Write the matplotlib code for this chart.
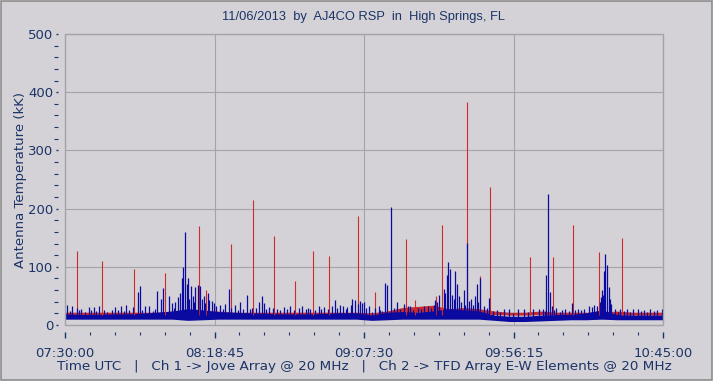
import matplotlib
matplotlib.use("Agg")
import matplotlib.pyplot as plt
from matplotlib.patches import Rectangle
from matplotlib.ticker import FixedLocator, MultipleLocator

# colours picked off the SkyPipe screenshot
BG = "#d4d2d6"
GRID = "#a4a4a8"
TEXT = "#1c3468"
BLUE = "#0a0aa0"
RED = "#cc2b2b"

# time axis is minutes after 07:30:00 UTC
tick_minutes = [0, 48.75, 97.5, 146.25, 195]
tick_labels = ["07:30:00", "08:18:45", "09:07:30", "09:56:15", "10:45:00"]

# dense noise band, one point every 5 minutes (kK)
band_t = [0, 5, 10, 15, 20, 25, 30, 35, 40, 45, 50, 55, 60, 65, 70, 75, 80, 85, 90, 95,
          100, 105, 110, 115, 120, 125, 130, 135, 140, 145, 150, 155, 160, 165, 170, 175,
          180, 185, 190, 195]
blue_lo = [10, 10, 10, 10, 10, 10, 10, 10, 8, 9, 10, 10, 10, 10, 10, 10, 10, 10, 10, 10,
           8, 9, 10, 10, 10, 10, 10, 10, 8, 6, 6, 7, 8, 9, 9, 10, 9, 9, 9, 9]
blue_hi = [19, 18, 18, 19, 19, 20, 22, 24, 28, 26, 23, 22, 21, 20, 19, 19, 19, 20, 21, 21,
           17, 22, 23, 22, 24, 28, 26, 24, 17, 15, 15, 17, 18, 18, 21, 26, 18, 17, 17, 17]
red_lo = [17, 17, 17, 17, 17, 17, 17, 18, 18, 18, 18, 17, 17, 17, 17, 17, 17, 17, 17, 17,
          16, 17, 20, 22, 22, 20, 20, 20, 18, 17, 17, 18, 17, 17, 17, 17, 18, 17, 17, 17]
red_hi = [22, 22, 22, 22, 22, 22, 22, 24, 24, 24, 24, 22, 22, 22, 22, 22, 22, 22, 22, 22,
          21, 24, 30, 32, 34, 28, 30, 28, 24, 22, 22, 24, 22, 22, 22, 22, 24, 22, 22, 22]

# isolated Ch 2 spikes
red_spike_t = [4.0, 12.2, 22.6, 32.7, 43.6, 46.1, 54.1, 61.4, 68.1, 75.1, 80.8, 86.0, 95.4,
               101.2, 111.3, 114.2, 121.0, 123.0, 131.1, 135.4, 138.7, 151.5, 159.1, 165.6,
               174.0, 181.7]
red_spike_v = [128, 110, 97, 89, 170, 60, 139, 215, 153, 76, 127, 119, 188,
               56, 147, 43, 49, 172, 383, 84, 237, 116, 116, 172,
               125, 149]

# Ch 1 bursts
blue_spike_t = [0.6, 2.4, 3.9, 5.2, 7.7, 9.4, 11.0, 12.6, 16.4, 18.3, 20.0, 22.1, 23.7, 24.4,
                26.0, 27.3, 30.0, 31.3, 32.1, 33.8, 34.9, 36.8, 38.2, 38.6, 39.2, 40.0, 41.2,
                42.5, 43.3, 44.1, 45.2, 47.1, 48.6, 50.6, 52.3, 53.4, 55.4, 57.0, 59.3, 61.0,
                63.2, 64.2, 64.9, 66.4, 69.1, 71.3, 73.5, 77.3, 80.0, 82.7, 84.4, 87.1, 87.9,
                89.8, 92.0, 93.1, 93.6, 94.7, 96.3, 97.4, 99.0, 101.0, 102.3, 102.7, 104.4,
                105.1, 106.2, 108.2, 110.4, 112.5, 117.0, 120.7, 122.0, 123.5, 124.6, 124.9,
                125.6, 126.2, 127.1, 128.4, 130.0, 131.1, 131.8, 133.7, 134.2, 135.4, 136.7,
                138.4, 140.9, 143.1, 144.7, 147.7, 149.6, 152.7, 154.5, 155.8, 157.0, 157.4,
                158.0, 158.8, 160.2, 162.1, 163.2, 165.3, 167.3, 169.1, 170.8, 171.8, 173.5,
                175.3, 175.8, 176.2, 176.8, 177.3, 178.1, 179.3, 181.1, 183.3, 185.1, 186.8,
                188.7, 190.8, 193.0, 194.6]
blue_spike_v = [34, 32, 30, 28, 31, 31, 32, 26, 31, 32, 34, 31, 57, 67,
                32, 32, 59, 45, 63, 50, 38, 48, 81, 100, 160, 81, 67,
                65, 69, 67, 49, 43, 38, 34, 36, 61, 35, 40, 52, 30,
                40, 50, 37, 31, 27, 31, 32, 32, 28, 32, 31, 32, 43,
                34, 31, 34, 44, 43, 42, 40, 32, 30, 32, 26, 72,
                69, 202, 40, 36, 32, 32, 43, 52, 61, 86, 109,
                97, 52, 92, 50, 60, 141, 42, 49, 70, 80, 32,
                46, 26, 28, 27, 28, 28, 27, 28, 27, 86, 225,
                57, 32, 30, 26, 27, 38, 27, 27, 32, 31, 32,
                52, 92, 122, 103, 65, 36, 27, 27, 27, 27, 27,
                26, 27, 26, 27]

# smaller Ch 1 flickers that give the baseline its ragged top
blue_small_t = [1.5, 4.6, 6.4, 8.5, 10.2, 13.8, 15.2, 17.4, 19.1, 21.0, 25.2, 28.6, 29.2,
                35.6, 36.0, 37.5, 39.8, 40.5, 41.8, 42.0, 44.6, 45.8, 46.5, 48.0, 49.2,
                51.5, 54.2, 56.3, 58.2, 60.2, 62.2, 65.7, 67.8, 70.2, 72.4, 74.6, 76.2,
                78.5, 79.2, 81.5, 83.5, 85.6, 88.8, 90.8, 91.5, 95.4, 96.8, 98.2, 100.2,
                103.5, 107.2, 109.3, 111.8, 113.6, 115.2, 116.1, 118.4, 119.3, 120.2,
                121.3, 124.0, 126.7, 127.8, 129.2, 130.5, 132.5, 133.0, 134.8, 137.5,
                139.6, 142.0, 146.2, 151.0, 156.4, 159.5, 161.3, 164.2, 166.4, 168.2,
                172.5, 174.3, 174.8, 175.0, 177.7, 180.2, 182.2, 184.2, 187.7, 189.8, 192.0]
blue_small_v = [24, 26, 22, 25, 24, 23, 26, 25, 24, 26, 25, 24, 27,
                30, 40, 55, 70, 45, 50, 40, 45, 38, 55, 42, 33,
                28, 30, 26, 28, 28, 30, 28, 30, 25, 28, 26, 29,
                27, 30, 26, 28, 27, 30, 33, 28, 36, 38, 30, 22,
                24, 30, 28, 33, 26, 30, 28, 33, 30, 35,
                40, 55, 45, 70, 40, 35, 45, 35, 40, 30,
                24, 22, 21, 22, 24, 25, 23, 24, 25, 26,
                35, 40, 48, 60, 45, 22, 24, 23, 24, 23, 24]

fig = plt.figure(figsize=(7.15, 3.83), dpi=100, facecolor="white")
# window panel behind everything
fig.patches.append(Rectangle((0.0015, 0.007), 0.994, 0.99, transform=fig.transFigure,
                             facecolor=BG, edgecolor="#8c8c8c", linewidth=1.2, zorder=-10))
ax = fig.add_axes([65 / 715, 58 / 383, 598 / 715, 291 / 383])
ax.set_facecolor(BG)

# Ch 2 (red) under Ch 1 (blue)
ax.fill_between(band_t, red_lo, red_hi, color=RED, linewidth=0)
ax.vlines(red_spike_t, 18, red_spike_v, color=RED, linewidth=0.8)
ax.fill_between(band_t, blue_lo, blue_hi, color=BLUE, linewidth=0)
ax.vlines(blue_small_t, 12, blue_small_v, color=BLUE, linewidth=0.9)
ax.vlines(blue_spike_t, 12, blue_spike_v, color=BLUE, linewidth=0.9)

ax.set_xlim(0, 195)
ax.set_ylim(0, 500)
ax.xaxis.set_major_locator(FixedLocator(tick_minutes))
ax.set_xticklabels(tick_labels)
ax.xaxis.set_minor_locator(MultipleLocator(8.125))
ax.yaxis.set_major_locator(MultipleLocator(100))
ax.yaxis.set_minor_locator(MultipleLocator(20))
ax.grid(True, which="major", color=GRID, linewidth=0.8)
ax.set_axisbelow(True)

# ticks sit a few pixels away from the frame, like the original
for side in ["left", "bottom"]:
    ax.spines[side].set_position(("outward", 5))
for s in ax.spines.values():
    s.set_visible(False)
ax.add_patch(Rectangle((0, 0), 1, 1, transform=ax.transAxes, fill=False,
                       edgecolor=GRID, linewidth=1.0, clip_on=False, zorder=5))

ax.tick_params(axis="y", which="major", length=1.5, width=1, color=TEXT,
               labelcolor=TEXT, labelsize=9.5, pad=2)
ax.tick_params(axis="y", which="minor", length=3, width=0.8, color=TEXT)
ax.tick_params(axis="x", which="major", length=4, width=1, color=TEXT,
               labelcolor=TEXT, labelsize=9.5, pad=7)
ax.tick_params(axis="x", which="minor", length=2, width=0.8, color=TEXT)

ax.set_ylabel("Antenna Temperature (kK)", color=TEXT, fontsize=9.5, labelpad=1)
ax.set_xlabel("Time UTC   |   Ch 1 -> Jove Array @ 20 MHz   |   Ch 2 -> TFD Array E-W Elements @ 20 MHz",
              color=TEXT, fontsize=9.7, labelpad=0)
fig.text(364 / 715, 1 - 17 / 383, "11/06/2013  by  AJ4CO RSP  in  High Springs, FL",
         ha="center", va="center", color=TEXT, fontsize=9.3, family="Liberation Sans")

fig.savefig("out.png", dpi=100, facecolor="white")
